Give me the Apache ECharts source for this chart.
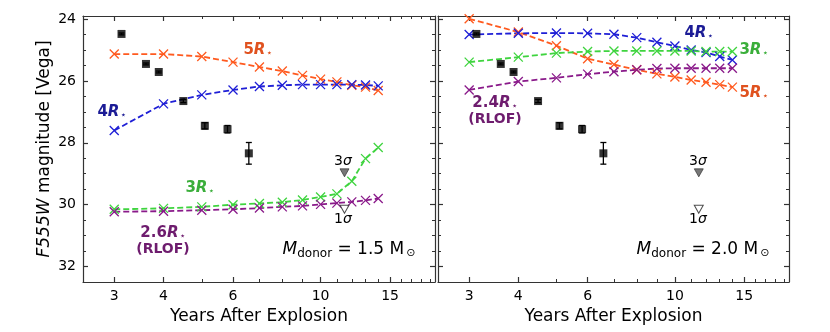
<!DOCTYPE html>
<html>
<head>
<meta charset="utf-8">
<script src="https://cdn.jsdelivr.net/npm/echarts@6/dist/echarts.min.js"></script>
<style>
  html, body { margin: 0; padding: 0; background: #fff; }
  #chart { width: 830px; height: 332px; }
</style>
</head>
<body>
<div id="chart"></div>
<script>
// model epochs (years after explosion)
var years = [3, 4, 5, 6, 7, 8, 9, 10, 11, 12, 13, 14];

// M_donor = 1.5 Msun models
var m15_5R = [25.13, 25.13, 25.21, 25.39, 25.55, 25.68, 25.82, 25.94, 26.03, 26.14, 26.20, 26.31];
var m15_4R = [27.60, 26.74, 26.45, 26.29, 26.18, 26.14, 26.12, 26.12, 26.12, 26.12, 26.13, 26.16];
var m15_3R = [30.15, 30.12, 30.07, 30.00, 29.96, 29.92, 29.85, 29.75, 29.65, 29.24, 28.51, 28.15];
var m15_26R = [30.23, 30.21, 30.18, 30.15, 30.11, 30.07, 30.04, 29.99, 29.95, 29.91, 29.86, 29.80];

// M_donor = 2.0 Msun models
var m20_5R = [23.99, 24.42, 24.86, 25.28, 25.47, 25.64, 25.77, 25.87, 25.97, 26.04, 26.12, 26.20];
var m20_4R = [24.50, 24.46, 24.45, 24.46, 24.49, 24.60, 24.75, 24.87, 25.00, 25.08, 25.21, 25.32];
var m20_3R = [25.39, 25.23, 25.10, 25.05, 25.03, 25.03, 25.03, 25.03, 25.03, 25.05, 25.05, 25.05];
var m20_24R = [26.29, 26.02, 25.90, 25.78, 25.70, 25.64, 25.60, 25.59, 25.59, 25.59, 25.59, 25.59];

// observed photometry
var obsYears = [3.13, 3.61, 3.89, 4.49, 5.09, 5.81, 6.58];
var obsMag = [24.48, 25.45, 25.71, 26.65, 27.45, 27.56, 28.34];
var obsErr = [0.03, 0.03, 0.03, 0.05, 0.10, 0.12, 0.35];

// upper limits
var limYear = 11.5;
var lim3sig = 28.97;
var lim1sig = 30.15;

// ticks
var xMajor = [3, 4, 6, 10, 15];
var xMinor = [5, 7, 8, 9, 11, 12, 13, 14, 16, 17, 18, 19];
var yMajor = [24, 26, 28, 30, 32];
var yMinor = [24.5, 25, 25.5, 26.5, 27, 27.5, 28.5, 29, 29.5, 30.5, 31, 31.5, 32.5];

var FONT = "DejaVu Sans";
var AX = "#333";

function pairs(xs, ys) {
  return xs.map(function (x, i) { return [x, ys[i]]; });
}

function xAxes(gi) {
  var base = { type: "log", logBase: 10, min: 2.5, max: 19.5, gridIndex: gi, splitLine: { show: false } };
  return [
    Object.assign({}, base, {
      position: "bottom",
      axisLine: { show: true, lineStyle: { color: AX, width: 1.2 } },
      axisTick: { show: true, inside: true, length: 5, customValues: xMajor, lineStyle: { color: AX, width: 1.2 } },
      axisLabel: { show: true, customValues: xMajor, color: "#000", fontFamily: FONT, fontSize: 14, margin: 7 },
      name: "Years After Explosion", nameLocation: "middle", nameGap: 20,
      nameTextStyle: { color: "#000", fontFamily: FONT, fontSize: 17, verticalAlign: "top" }
    }),
    Object.assign({}, base, {
      position: "bottom",
      axisLine: { show: false },
      axisTick: { show: true, inside: true, length: 3, customValues: xMinor, lineStyle: { color: AX, width: 1 } },
      axisLabel: { show: false }
    }),
    Object.assign({}, base, {
      position: "top",
      axisLine: { show: true, lineStyle: { color: AX, width: 1.2 } },
      axisTick: { show: true, inside: true, length: 5, customValues: xMajor, lineStyle: { color: AX, width: 1.2 } },
      axisLabel: { show: false }
    }),
    Object.assign({}, base, {
      position: "top",
      axisLine: { show: false },
      axisTick: { show: true, inside: true, length: 3, customValues: xMinor, lineStyle: { color: AX, width: 1 } },
      axisLabel: { show: false }
    })
  ];
}

function yAxes(gi, withLabels) {
  var base = { type: "value", min: 23.9, max: 32.5, inverse: true, gridIndex: gi, splitLine: { show: false } };
  var left = Object.assign({}, base, {
    position: "left",
    axisLine: { show: true, lineStyle: { color: AX, width: 1.2 } },
    axisTick: { show: true, inside: true, length: 5, customValues: yMajor, lineStyle: { color: AX, width: 1.2 } },
    axisLabel: { show: withLabels, customValues: yMajor, color: "#000", fontFamily: FONT, fontSize: 14, margin: 7 }
  });
  if (withLabels) {
    left.name = "{i|F555W} magnitude [Vega]";
    left.nameLocation = "middle";
    left.nameGap = 30;
    left.nameTextStyle = {
      color: "#000", fontFamily: FONT, fontSize: 17,
      rich: { i: { fontStyle: "italic", fontFamily: FONT, fontSize: 17, color: "#000" } }
    };
  }
  return [
    left,
    Object.assign({}, base, {
      position: "left",
      axisLine: { show: false },
      axisTick: { show: true, inside: true, length: 3, customValues: yMinor, lineStyle: { color: AX, width: 1 } },
      axisLabel: { show: false }
    }),
    Object.assign({}, base, {
      position: "right",
      axisLine: { show: true, lineStyle: { color: AX, width: 1.2 } },
      axisTick: { show: true, inside: true, length: 5, customValues: yMajor, lineStyle: { color: AX, width: 1.2 } },
      axisLabel: { show: false }
    }),
    Object.assign({}, base, {
      position: "right",
      axisLine: { show: false },
      axisTick: { show: true, inside: true, length: 3, customValues: yMinor, lineStyle: { color: AX, width: 1 } },
      axisLabel: { show: false }
    })
  ];
}

var CROSS = "path://M0,0L10,10M10,0L0,10";

function model(ax, ys, color) {
  return {
    type: "line",
    xAxisIndex: ax, yAxisIndex: ax,
    data: pairs(years, ys),
    symbol: CROSS, symbolSize: 9,
    showSymbol: true,
    itemStyle: { color: "none", borderColor: color, borderWidth: 1.3 },
    lineStyle: { color: color, width: 1.8, type: [6, 3] },
    animation: false, z: 3
  };
}

function observed(ax) {
  return [
    {
      type: "custom",
      xAxisIndex: ax, yAxisIndex: ax,
      data: obsYears.map(function (x, i) { return [x, obsMag[i], obsErr[i]]; }),
      renderItem: function (params, api) {
        var x = api.value(0), y = api.value(1), e = api.value(2);
        var top = api.coord([x, y - e]);
        var bot = api.coord([x, y + e]);
        var st = { stroke: "#000", lineWidth: 1.3 };
        return {
          type: "group",
          children: [
            { type: "line", shape: { x1: top[0], y1: top[1], x2: bot[0], y2: bot[1] }, style: st },
            { type: "line", shape: { x1: top[0] - 3, y1: top[1], x2: top[0] + 3, y2: top[1] }, style: st },
            { type: "line", shape: { x1: bot[0] - 3, y1: bot[1], x2: bot[0] + 3, y2: bot[1] }, style: st }
          ]
        };
      },
      animation: false, z: 4
    },
    {
      type: "scatter",
      xAxisIndex: ax, yAxisIndex: ax,
      data: pairs(obsYears, obsMag),
      symbol: "rect", symbolSize: 8,
      itemStyle: { color: "#000" },
      animation: false, z: 5
    },
    {
      type: "scatter",
      xAxisIndex: ax, yAxisIndex: ax,
      data: [[limYear, lim3sig]],
      symbol: "triangle", symbolRotate: 180, symbolSize: [9, 8],
      itemStyle: { color: "#555", borderColor: "#222", borderWidth: 0.8 },
      animation: false, z: 5
    },
    {
      type: "scatter",
      xAxisIndex: ax, yAxisIndex: ax,
      data: [[limYear, lim1sig]],
      symbol: "triangle", symbolRotate: 180, symbolSize: [9, 8],
      itemStyle: { color: "#fff", borderColor: "#222", borderWidth: 1 },
      animation: false, z: 5
    }
  ];
}

var C_OR = "#ff5a1f", C_BL = "#1f1fd6", C_GR = "#3fd43f", C_PU = "#8a1a8a";
var L_OR = "#e0521f", L_BL = "#1c1c96", L_GR = "#3aae3a", L_PU = "#6e1c6e";

function rLabel(x, y, num, color) {
  return {
    type: "text", x: x, y: y, z: 10,
    style: {
      text: "{n|" + num + "}{r|R}{s|⋆}",
      align: "center", verticalAlign: "middle",
      rich: {
        n: { fontFamily: FONT, fontSize: 15, fontWeight: "bold", fill: color, color: color },
        r: { fontFamily: FONT, fontSize: 15, fontWeight: "bold", fontStyle: "italic", fill: color, color: color },
        s: { fontFamily: FONT, fontSize: 10, fill: color, color: color, padding: [7, 0, 0, 1] }
      }
    }
  };
}

function plainText(x, y, text, color, size, weight) {
  return {
    type: "text", x: x, y: y, z: 10,
    style: {
      text: text, fill: color, align: "center", verticalAlign: "middle",
      font: (weight || "normal") + " " + size + "px " + FONT
    }
  };
}

function sigmaLabel(x, y, n) {
  return {
    type: "text", x: x, y: y, z: 10,
    style: {
      text: "{n|" + n + "}{s|σ}",
      align: "center", verticalAlign: "middle",
      rich: {
        n: { fontFamily: FONT, fontSize: 14, fill: "#000", color: "#000" },
        s: { fontFamily: FONT, fontSize: 14, fontStyle: "italic", fill: "#000", color: "#000" }
      }
    }
  };
}

function donorLabel(x, y, mass) {
  return {
    type: "text", x: x, y: y, z: 10,
    style: {
      text: "{m|M}{d|donor}{t| = " + mass + " M}{o|⊙}",
      align: "center", verticalAlign: "middle",
      rich: {
        m: { fontFamily: FONT, fontSize: 17, fontStyle: "italic", fill: "#000", color: "#000" },
        d: { fontFamily: FONT, fontSize: 12, fill: "#000", color: "#000", padding: [8, 0, 0, 0] },
        t: { fontFamily: FONT, fontSize: 17, fill: "#000", color: "#000" },
        o: { fontFamily: FONT, fontSize: 11, fill: "#000", color: "#000", padding: [7, 0, 0, 2] }
      }
    }
  };
}

var chart = echarts.init(document.getElementById("chart"), null, { renderer: "canvas" });

chart.setOption({
  backgroundColor: "#fff",
  animation: false,
  textStyle: { fontFamily: FONT },
  grid: [
    { left: 83, right: 395, top: 16, bottom: 50 },
    { left: 438, right: 41, top: 16, bottom: 50 }
  ],
  xAxis: xAxes(0).concat(xAxes(1)),
  yAxis: yAxes(0, true).concat(yAxes(1, false)),
  series: [
    model(0, m15_5R, C_OR),
    model(0, m15_4R, C_BL),
    model(0, m15_3R, C_GR),
    model(0, m15_26R, C_PU),
    model(4, m20_5R, C_OR),
    model(4, m20_4R, C_BL),
    model(4, m20_3R, C_GR),
    model(4, m20_24R, C_PU)
  ].concat(observed(0)).concat(observed(4)),
  graphic: [
    rLabel(258, 50, "5", L_OR),
    rLabel(112, 112, "4", L_BL),
    rLabel(200, 188, "3", L_GR),
    rLabel(163, 233, "2.6", L_PU),
    plainText(163, 249, "(RLOF)", L_PU, 14, "bold"),
    sigmaLabel(343, 161, "3"),
    sigmaLabel(343, 219, "1"),
    donorLabel(349, 250, "1.5"),

    rLabel(699, 33, "4", L_BL),
    rLabel(754, 50, "3", L_GR),
    rLabel(754, 93, "5", L_OR),
    rLabel(495, 103, "2.4", L_PU),
    plainText(495, 119, "(RLOF)", L_PU, 14, "bold"),
    sigmaLabel(698, 161, "3"),
    sigmaLabel(698, 219, "1"),
    donorLabel(703, 250, "2.0")
  ]
});
</script>
</body>
</html>
